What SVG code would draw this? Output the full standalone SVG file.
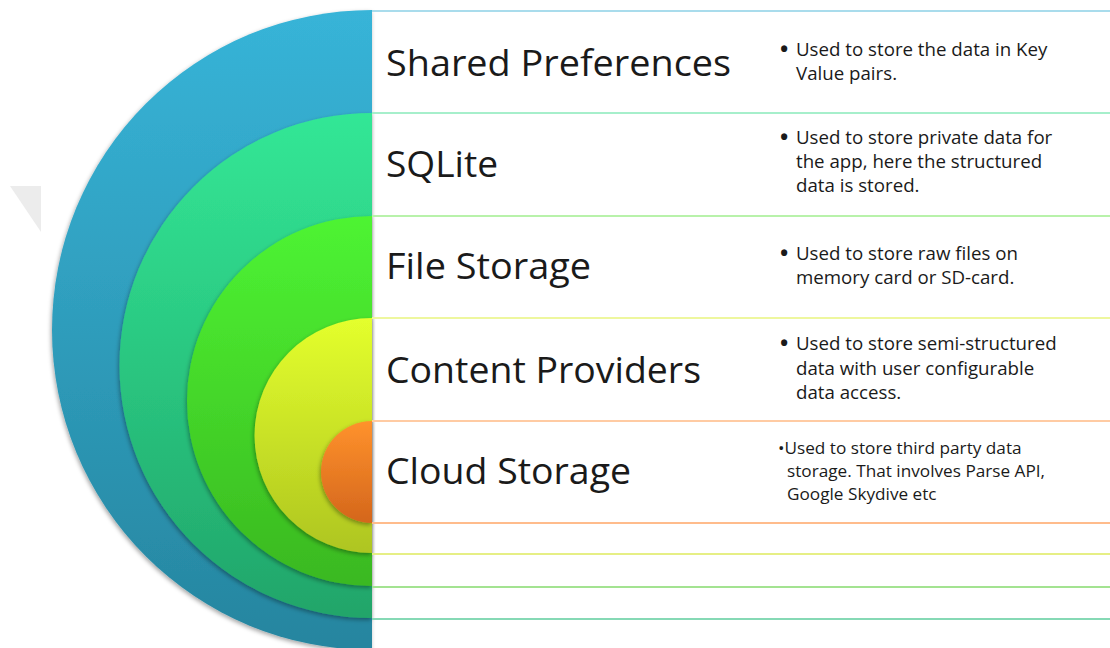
<svg xmlns="http://www.w3.org/2000/svg" width="1110" height="648" viewBox="0 0 1110 648">
<style>
.title{font-family:"Open Sans","Liberation Sans",sans-serif;font-size:37px;fill:#1a1a1a}
.desc{font-family:"Open Sans","Liberation Sans",sans-serif;font-size:18.7px;fill:#1a1a1a}
.bul{font-family:"Open Sans","Liberation Sans",sans-serif;font-size:22px;font-weight:bold;fill:#1a1a1a}
.desc2{font-family:"Open Sans","Liberation Sans",sans-serif;font-size:17.2px;fill:#1a1a1a}
.div{stroke-width:2;fill:none}
</style>
<defs>
<linearGradient id="gBlue" x1="0" y1="0" x2="0" y2="1"><stop offset="0" stop-color="#37B4D8"/><stop offset="1" stop-color="#26859F"/></linearGradient>
<linearGradient id="gTeal" x1="0" y1="0" x2="0" y2="1"><stop offset="0" stop-color="#33E796"/><stop offset="1" stop-color="#21A56A"/></linearGradient>
<linearGradient id="gGreen" x1="0" y1="0" x2="0" y2="1"><stop offset="0" stop-color="#4EF433"/><stop offset="1" stop-color="#3AB820"/></linearGradient>
<linearGradient id="gYellow" x1="0" y1="0" x2="0" y2="1"><stop offset="0" stop-color="#E4FF2D"/><stop offset="1" stop-color="#AEC520"/></linearGradient>
<linearGradient id="gOrange" x1="0" y1="0" x2="0" y2="1"><stop offset="0" stop-color="#FF922C"/><stop offset="1" stop-color="#D4661C"/></linearGradient>
<filter id="sh" x="-20%" y="-20%" width="140%" height="140%"><feDropShadow dx="-1" dy="2" stdDeviation="2" flood-color="#000" flood-opacity="0.35"/></filter>
</defs>
<rect width="1110" height="648" fill="#ffffff"/>
<polygon points="10,186 41,186 41,232" fill="#ececec"/>

<g id="node-shared-preferences">
<path d="M372,10 A320,320 0 0 0 372,650 Z" fill="url(#gBlue)" filter="url(#sh)"/>
<text class="title" x="386" y="76" textLength="345" lengthAdjust="spacingAndGlyphs">Shared Preferences</text>
<text class="bul" x="780" y="57">•</text>
<text class="desc" x="796" y="56">Used to store the data in Key</text>
<text class="desc" x="796" y="80">Value pairs.</text>
</g>
<g id="node-sqlite">
<path d="M372,113 A252.5,252.5 0 0 0 372,618 Z" fill="url(#gTeal)" filter="url(#sh)"/>
<text class="title" x="386" y="177" textLength="112" lengthAdjust="spacingAndGlyphs">SQLite</text>
<text class="bul" x="780" y="145">•</text>
<text class="desc" x="796" y="144">Used to store private data for</text>
<text class="desc" x="796" y="168">the app, here the structured</text>
<text class="desc" x="796" y="192">data is stored.</text>
</g>
<g id="node-file-storage">
<path d="M372,216 A185,185 0 0 0 372,586 Z" fill="url(#gGreen)" filter="url(#sh)"/>
<text class="title" x="386" y="279" textLength="205" lengthAdjust="spacingAndGlyphs">File Storage</text>
<text class="bul" x="780" y="261">•</text>
<text class="desc" x="796" y="260">Used to store raw files on</text>
<text class="desc" x="796" y="284">memory card or SD-card.</text>
</g>
<g id="node-content-providers">
<path d="M372,318 A117.5,117.5 0 0 0 372,553 Z" fill="url(#gYellow)" filter="url(#sh)"/>
<text class="title" x="386" y="383" textLength="315" lengthAdjust="spacingAndGlyphs">Content Providers</text>
<text class="bul" x="780" y="351">•</text>
<text class="desc" x="796" y="350">Used to store semi-structured</text>
<text class="desc" x="796" y="375">data with user configurable</text>
<text class="desc" x="796" y="399">data access.</text>
</g>
<g id="node-cloud-storage">
<path d="M372,421 A51,51 0 0 0 372,523 Z" fill="url(#gOrange)" filter="url(#sh)"/>
<text class="title" x="386" y="484" textLength="245" lengthAdjust="spacingAndGlyphs">Cloud Storage</text>
<text class="desc2" x="778" y="454">•Used to store third party data</text>
<text class="desc2" x="787" y="477">storage. That involves Parse API,</text>
<text class="desc2" x="787" y="500">Google Skydive etc</text>
</g>

<g id="connectors">
<line class="div" x1="372" y1="11" x2="1110" y2="11" stroke="#A9DCEC"/>
<line class="div" x1="372" y1="113" x2="1110" y2="113" stroke="#A6EFCB"/>
<line class="div" x1="372" y1="216" x2="1110" y2="216" stroke="#B8F2AA"/>
<line class="div" x1="372" y1="318" x2="1110" y2="318" stroke="#EEF79E"/>
<line class="div" x1="372" y1="421" x2="1110" y2="421" stroke="#FFCBA3"/>
<line class="div" x1="372" y1="523" x2="1110" y2="523" stroke="#FFBC8C"/>
<line class="div" x1="372" y1="554" x2="1110" y2="554" stroke="#E6EF85"/>
<line class="div" x1="372" y1="587" x2="1110" y2="587" stroke="#A3E391"/>
<line class="div" x1="372" y1="619" x2="1110" y2="619" stroke="#86D9B5"/>
</g>
</svg>
